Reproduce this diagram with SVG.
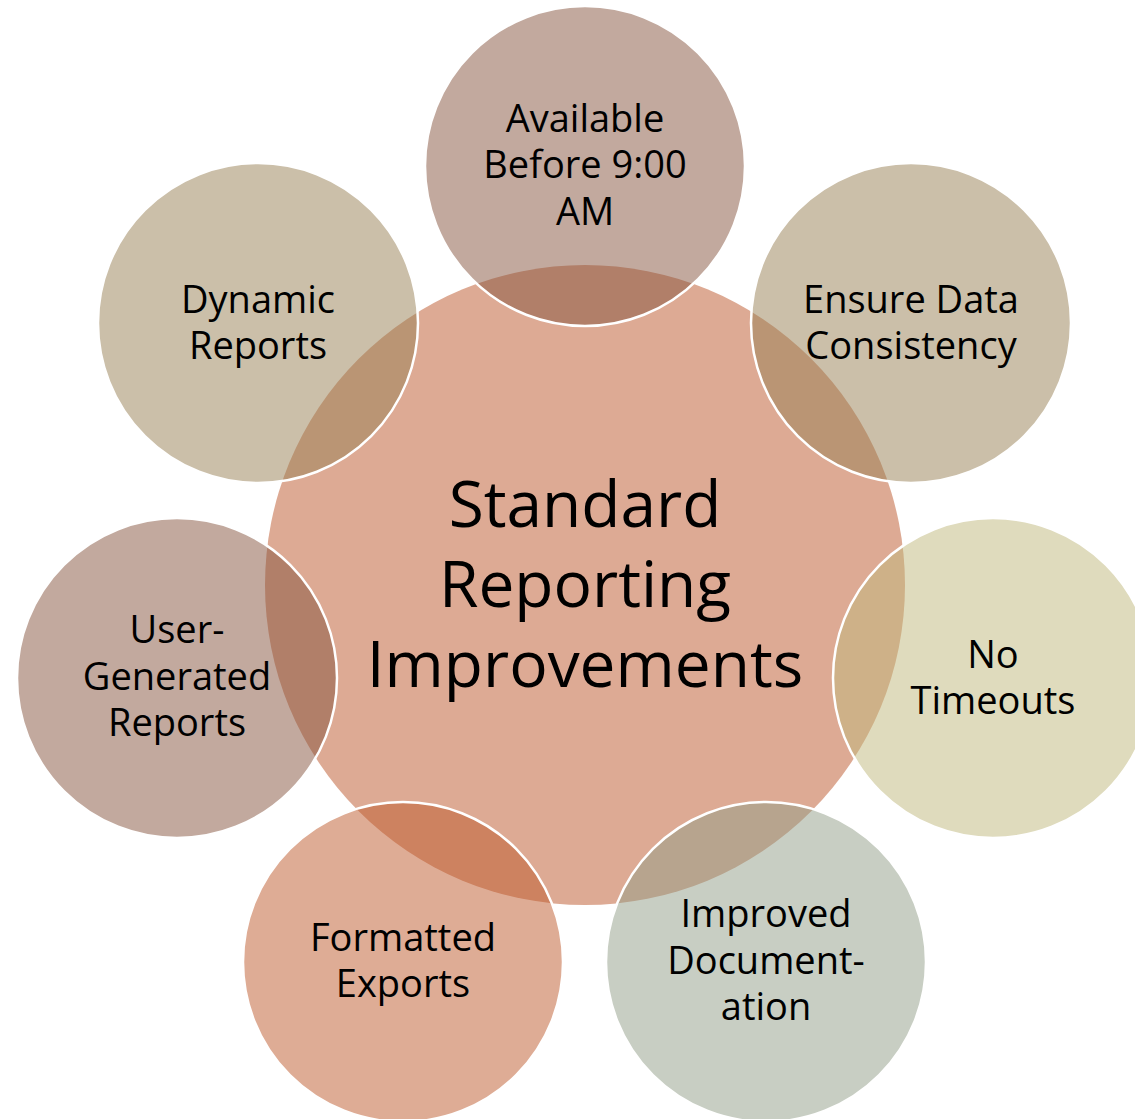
<svg xmlns="http://www.w3.org/2000/svg" width="1135" height="1119" viewBox="0 0 1135 1119">
<style>
.sat{stroke:#ffffff;stroke-width:2.5;fill-opacity:0.5}
.t{font-family:"Open Sans","Liberation Sans",sans-serif;font-size:38px;fill:#000;text-anchor:middle}
.c{font-family:"Open Sans","Liberation Sans",sans-serif;font-size:64px;fill:#000;text-anchor:middle}
</style>
<rect width="1135" height="1119" fill="#ffffff"/>
<g id="center">
<circle cx="585" cy="585" r="320" fill="#DDAA94"/>
<text class="c"><tspan x="585" y="527">Standard</tspan><tspan x="585" y="607">Reporting</tspan><tspan x="585" y="687">Improvements</tspan></text>
</g>
<g id="connectors"></g>
<g id="available">
<circle class="sat" cx="585" cy="166" r="160" fill="#85533D"/>
<text class="t"><tspan x="585" y="132">Available</tspan><tspan x="585" y="178">Before 9:00</tspan><tspan x="585" y="225">AM</tspan></text>
</g>
<g id="ensure">
<circle class="sat" cx="911" cy="323" r="160" fill="#977F53"/>
<text class="t"><tspan x="911" y="313">Ensure Data</tspan><tspan x="911" y="359">Consistency</tspan></text>
</g>
<g id="timeouts">
<circle class="sat" cx="993" cy="678" r="160" fill="#BFB77B"/>
<text class="t"><tspan x="993" y="668">No</tspan><tspan x="993" y="714">Timeouts</tspan></text>
</g>
<g id="documentation">
<circle class="sat" cx="766" cy="962" r="160" fill="#919D87"/>
<text class="t"><tspan x="766" y="927">Improved</tspan><tspan x="766" y="974">Document-</tspan><tspan x="766" y="1020">ation</tspan></text>
</g>
<g id="exports">
<circle class="sat" cx="403" cy="962" r="160" fill="#BD592B"/>
<text class="t"><tspan x="403" y="951">Formatted</tspan><tspan x="403" y="997">Exports</tspan></text>
</g>
<g id="usergen">
<circle class="sat" cx="177" cy="678" r="160" fill="#85533D"/>
<text class="t"><tspan x="177" y="643">User-</tspan><tspan x="177" y="690">Generated</tspan><tspan x="177" y="736">Reports</tspan></text>
</g>
<g id="dynamic">
<circle class="sat" cx="258" cy="323" r="160" fill="#977F53"/>
<text class="t"><tspan x="258" y="313">Dynamic</tspan><tspan x="258" y="359">Reports</tspan></text>
</g>
</svg>
